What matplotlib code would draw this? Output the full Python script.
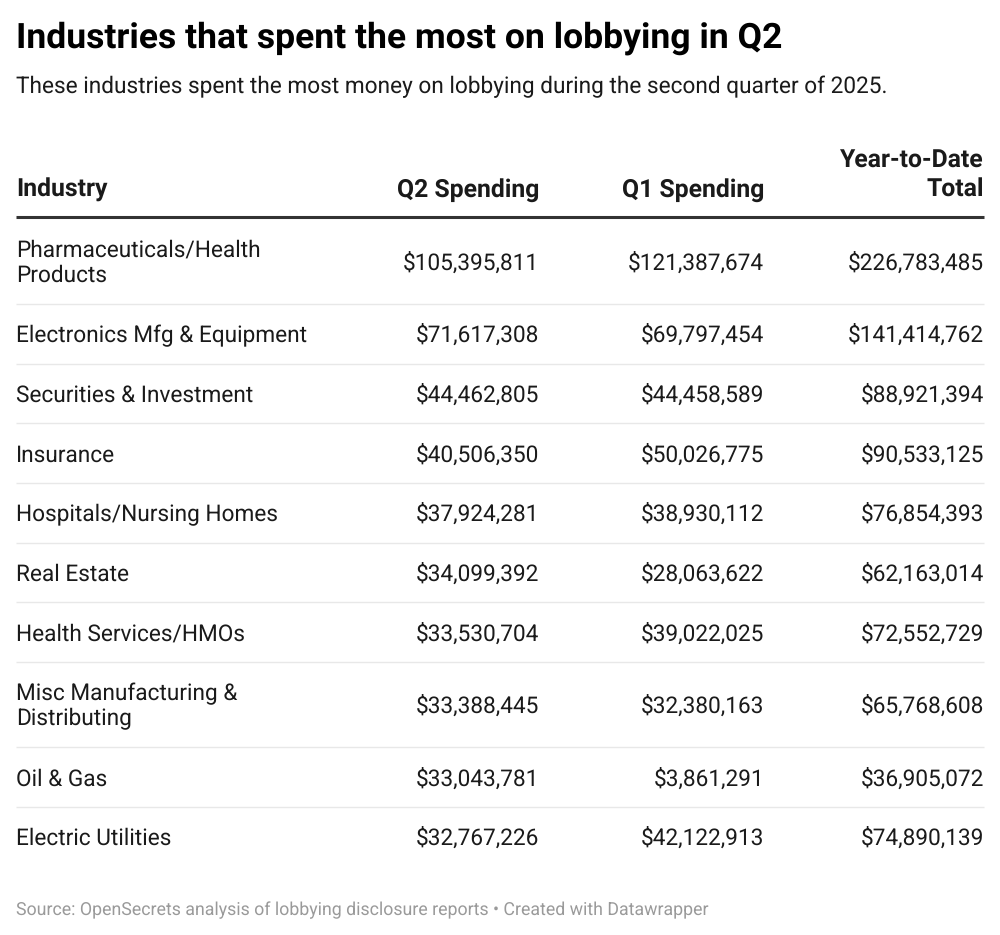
"""Table of top lobbying industries, drawn as text and rules on one full-figure axes."""

import matplotlib
matplotlib.use("Agg")
import matplotlib.pyplot as plt

plt.rcParams["font.family"] = ["Roboto", "DejaVu Sans"]
plt.rcParams["text.hinting"] = "none"  # widths scale evenly with font size

W, H = 1000, 935

TITLE = "Industries that spent the most on lobbying in Q2"
SUBTITLE = "These industries spent the most money on lobbying during the second quarter of 2025."
SOURCE = "Source: OpenSecrets analysis of lobbying disclosure reports • Created with Datawrapper"

HEADERS = ["Industry", "Q2 Spending", "Q1 Spending", "Year-to-Date\nTotal"]
INDUSTRIES = [
    "Pharmaceuticals/Health\nProducts",
    "Electronics Mfg & Equipment",
    "Securities & Investment",
    "Insurance",
    "Hospitals/Nursing Homes",
    "Real Estate",
    "Health Services/HMOs",
    "Misc Manufacturing &\nDistributing",
    "Oil & Gas",
    "Electric Utilities",
]
Q2_SPENDING = ["$105,395,811", "$71,617,308", "$44,462,805", "$40,506,350", "$37,924,281",
               "$34,099,392", "$33,530,704", "$33,388,445", "$33,043,781", "$32,767,226"]
Q1_SPENDING = ["$121,387,674", "$69,797,454", "$44,458,589", "$50,026,775", "$38,930,112",
               "$28,063,622", "$39,022,025", "$32,380,163", "$3,861,291", "$42,122,913"]
YTD_TOTAL = ["$226,783,485", "$141,414,762", "$88,921,394", "$90,533,125", "$76,854,393",
             "$62,163,014", "$72,552,729", "$65,768,608", "$36,905,072", "$74,890,139"]

# baselines in pixels from the top
ROW_BASE = [269.5, 342, 402, 461.5, 521, 581, 640.5, 713, 786, 845]
ROW_RULES = [303.5, 363.5, 423, 483, 542.5, 602, 662, 747, 807]
COL_RIGHT = [539, 764, 984]
LEFT = 16
FS = 16.28
FS_HEAD = 17.85
INK = "#1a1a1a"


def main():
    fig = plt.figure(figsize=(W / 100, H / 100), dpi=100)
    ax = fig.add_axes([0, 0, 1, 1])
    ax.set_xlim(0, W)
    ax.set_ylim(H, 0)
    ax.axis("off")

    ax.text(LEFT, 48, TITLE, fontsize=25.55, fontweight="bold", va="baseline", color="#000000")
    ax.text(LEFT, 93, SUBTITLE, fontsize=16.28, va="baseline", color=INK)

    # Header row, last line sits just above the heavy rule
    head = dict(fontsize=FS_HEAD, fontweight="bold", va="baseline", color=INK)
    ax.text(LEFT, 196.5, HEADERS[0], **head)
    ax.text(COL_RIGHT[0], 196.5, HEADERS[1], ha="right", **head)
    ax.text(COL_RIGHT[1], 196.5, HEADERS[2], ha="right", **head)
    top, bottom = HEADERS[3].split("\n")
    ax.text(COL_RIGHT[2], 167.5, top, ha="right", **head)
    ax.text(COL_RIGHT[2], 196.5, bottom, ha="right", **head)
    ax.plot([LEFT, COL_RIGHT[2]], [216.5, 216.5], color="#333333", lw=2.2, solid_capstyle="butt")

    body = dict(fontsize=FS, va="baseline", color=INK)
    for i, y in enumerate(ROW_BASE):
        lines = INDUSTRIES[i].split("\n")
        if len(lines) == 2:
            ax.text(LEFT, y - 13, lines[0], **body)
            ax.text(LEFT, y + 12.5, lines[1], **body)
        else:
            ax.text(LEFT, y, lines[0], **body)
        ax.text(COL_RIGHT[0], y, Q2_SPENDING[i], ha="right", **body)
        ax.text(COL_RIGHT[1], y, Q1_SPENDING[i], ha="right", **body)
        ax.text(COL_RIGHT[2], y, YTD_TOTAL[i], ha="right", **body)

    for y in ROW_RULES:
        ax.plot([LEFT, COL_RIGHT[2]], [y, y], color="#e8e8e8", lw=1.0, solid_capstyle="butt")

    ax.text(LEFT, 915, SOURCE, fontsize=12.75, va="baseline", color="#9a9a9a")

    fig.savefig("out.png", dpi=100)
    plt.close(fig)


if __name__ == "__main__":
    main()
